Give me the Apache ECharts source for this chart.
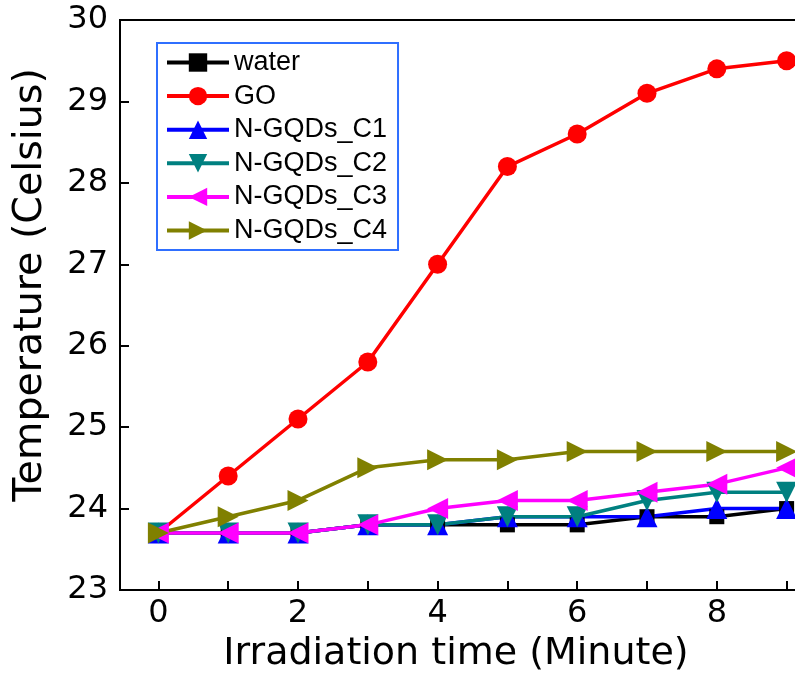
<!DOCTYPE html>
<html>
<head>
<meta charset="utf-8">
<script src="https://cdn.jsdelivr.net/npm/echarts@6/dist/echarts.min.js"></script>
<style>
  html, body { margin: 0; padding: 0; background: #fff; }
  #chart { width: 795px; height: 673px; }
</style>
</head>
<body>
<div id="chart"></div>
<script>
// Irradiation time in minutes
const minutes = [0, 1, 2, 3, 4, 5, 6, 7, 8, 9];

// Temperature readings (Celsius)
const water   = [23.7, 23.7, 23.7, 23.8, 23.8, 23.8, 23.8, 23.9, 23.9, 24.0];
const go      = [23.7, 24.4, 25.1, 25.8, 27.0, 28.2, 28.6, 29.1, 29.4, 29.5];
const ngqdsC1 = [23.7, 23.7, 23.7, 23.8, 23.8, 23.9, 23.9, 23.9, 24.0, 24.0];
const ngqdsC2 = [23.7, 23.7, 23.7, 23.8, 23.8, 23.9, 23.9, 24.1, 24.2, 24.2];
const ngqdsC3 = [23.7, 23.7, 23.7, 23.8, 24.0, 24.1, 24.1, 24.2, 24.3, 24.5];
const ngqdsC4 = [23.7, 23.9, 24.1, 24.5, 24.6, 24.6, 24.7, 24.7, 24.7, 24.7];

// Axis tick values
const xTickValues = [0, 1, 2, 3, 4, 5, 6, 7, 8, 9];
const xLabelValues = [0, 2, 4, 6, 8];

const pair = (ys) => minutes.map((x, i) => [x, ys[i]]);

function makeSeries(name, ys, color, symbol, size, rotate) {
  return {
    name: name,
    type: 'line',
    data: pair(ys),
    symbol: symbol,
    symbolSize: size,
    symbolRotate: rotate,
    lineStyle: { color: color, width: 3.5 },
    itemStyle: { color: color },
    emphasis: { disabled: true },
    animation: false
  };
}

const chart = echarts.init(document.getElementById('chart'), null, { renderer: 'canvas' });

chart.setOption({
  backgroundColor: '#ffffff',
  animation: false,
  grid: {
    left: 120, top: 20, width: 705, bottom: 83,
    outerBoundsMode: 'none',
    containLabel: false,
    show: true, borderColor: '#000', borderWidth: 2, backgroundColor: 'transparent'
  },
  legend: {
    orient: 'vertical',
    left: 157, top: 43,
    backgroundColor: '#fff',
    borderColor: '#2f6fff',
    borderWidth: 2,
    borderRadius: 0,
    padding: [6, 11, 6, 8],
    itemWidth: 62,
    itemHeight: 23,
    itemGap: 6.6,
    symbolRotate: 'inherit',
    lineStyle: { width: 4 },
    textStyle: { fontFamily: 'Liberation Sans, Arial, sans-serif', fontSize: 27, color: '#000', lineHeight: 23 },
    data: ['water', 'GO', 'N-GQDs_C1', 'N-GQDs_C2', 'N-GQDs_C3', 'N-GQDs_C4']
  },
  xAxis: {
    type: 'value',
    min: -0.55, max: 9.55,
    axisLine: { onZero: false, lineStyle: { color: '#000', width: 2 } },
    axisTick: { inside: true, length: 9, customValues: xTickValues, lineStyle: { color: '#000', width: 2 } },
    axisLabel: { customValues: xLabelValues, fontFamily: 'DejaVu Sans', fontSize: 32, color: '#000', margin: 8 },
    splitLine: { show: false }
  },
  yAxis: {
    type: 'value',
    min: 23, max: 30, interval: 1,
    axisLine: { show: true, onZero: false, lineStyle: { color: '#000', width: 2 } },
    axisTick: { show: true, inside: true, length: 9, lineStyle: { color: '#000', width: 2 } },
    axisLabel: { fontFamily: 'DejaVu Sans', fontSize: 32, color: '#000', margin: 12 },
    splitLine: { show: false }
  },
  graphic: [
    {
      type: 'text',
      x: 456, y: 654,
      style: {
        text: 'Irradiation time (Minute)',
        fontFamily: 'DejaVu Sans', fontSize: 38, fill: '#000',
        align: 'center', verticalAlign: 'middle'
      }
    },
    {
      type: 'text',
      x: 31, y: 285,
      rotation: Math.PI / 2,
      style: {
        text: 'Temperature (Celsius)',
        fontFamily: 'DejaVu Sans', fontSize: 39.5, fill: '#000',
        align: 'center', verticalAlign: 'middle'
      }
    }
  ],
  series: [
    makeSeries('water', water, '#000000', 'rect', 15, 0),
    makeSeries('GO', go, '#ff0000', 'circle', 19, 0),
    makeSeries('N-GQDs_C1', ngqdsC1, '#0000ff', 'triangle', 21, 0),
    makeSeries('N-GQDs_C2', ngqdsC2, '#008080', 'triangle', 21, 180),
    makeSeries('N-GQDs_C3', ngqdsC3, '#ff00ff', 'triangle', 21, 90),
    makeSeries('N-GQDs_C4', ngqdsC4, '#808000', 'triangle', 21, -90)
  ]
});
</script>
</body>
</html>
